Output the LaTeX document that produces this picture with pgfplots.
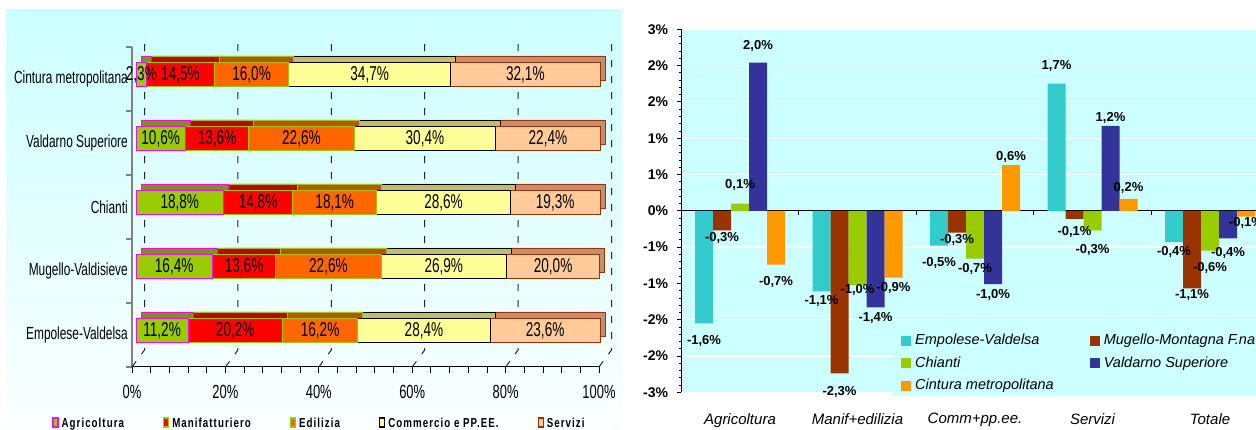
\documentclass[border=0pt]{standalone}
\usepackage{fontspec}
\setmainfont{Liberation Sans}
\newfontfamily\narrow[FakeStretch=0.68]{Liberation Sans}
\newfontfamily\legfont[FakeStretch=0.75,LetterSpace=8]{Liberation Sans Bold}
\usepackage{pgfplots}
\usepackage{pgfplotstable}
\pgfplotsset{compat=1.18}

\definecolor{bgc}{HTML}{CCFFFF}
\definecolor{agrF}{HTML}{99CC00}
\definecolor{agrT}{HTML}{779900}
\definecolor{agrL}{HTML}{FF00FF}
\definecolor{manF}{HTML}{FF0000}
\definecolor{manT}{HTML}{C00000}
\definecolor{ediF}{HTML}{FF6600}
\definecolor{ediT}{HTML}{C05000}
\definecolor{grL}{HTML}{99CC00}
\definecolor{comF}{HTML}{FFFF99}
\definecolor{comT}{HTML}{BDBD70}
\definecolor{serF}{HTML}{FFCC99}
\definecolor{serT}{HTML}{C09070}
\definecolor{serL}{HTML}{993300}
\definecolor{cEmp}{HTML}{33CCCC}
\definecolor{cMug}{HTML}{993300}
\definecolor{cChi}{HTML}{99CC00}
\definecolor{cVal}{HTML}{333399}
\definecolor{cCin}{HTML}{FF9900}

% composizione per comparto (0 = Empolese-Valdelsa ... 4 = Cintura metropolitana)
\pgfplotstableread{
pos agr man edi com ser
0 11.2 20.2 16.2 28.4 23.6
1 16.4 13.6 22.6 26.9 20.0
2 18.8 14.8 18.1 28.6 19.3
3 10.6 13.6 22.6 30.4 22.4
4 2.3 14.5 16.0 34.7 32.1
}\quota

% variazioni: valore, etichetta, spostamento etichetta (pt)
\pgfplotstableread{
cat emp empl empd mug mugl mugd chi chil chid val vall vald cin cinl cind
0 -1.55 -1,6 -17.7 -0.27 -0,3 -7.7 0.10 0,1 18.3 2.04 2,0 17 -0.74 -0,7 -17
1 -1.11 -1,1 -10 -2.24 -2,3 -18.3 -1.02 -1,0 -5 -1.33 -1,4 -10.6 -0.92 -0,9 -10.6
2 -0.48 -0,5 -17.6 -0.30 -0,3 -7 -0.66 -0,7 -10.7 -1.01 -1,0 -11 0.63 0,6 8.3
3 1.75 1,7 17.3 -0.11 -0,1 -13 -0.27 -0,3 -19.3 1.17 1,2 7.7 0.165 0,2 10.7
4 -0.43 -0,4 -10.3 -1.07 -1,1 -7 -0.55 -0,6 -17.7 -0.38 -0,4 -14.7 -0.08 -0,1 -6.7
}\var

\pgfplotsset{
  barleft/.style={
    scale only axis, anchor=south west,
    width=466pt, height=320pt,
    xmin=0, xmax=100, ymin=-0.5, ymax=4.5,
    hide axis, clip=false,
  },
  barright/.style={
    at={(681.25pt,37.7pt)}, anchor=south west, scale only axis,
    width=587.5pt, height=363pt,
    xmin=-0.5, xmax=4.5, ymin=-2.5, ymax=2.5,
  },
}

\begin{document}
\begin{tikzpicture}
\begin{scope}
\clip (0pt,0pt) rectangle (1256pt,430pt);
\shade[top color=bgc, bottom color=bgc!8!white] (6pt,0pt) rectangle (622pt,420pt);

% cornice del grafico a sinistra
\begin{axis}[
  at={(132pt,63pt)}, anchor=south west, scale only axis,
  width=467pt, height=320pt,
  xmin=0, xmax=100, ymin=-0.5, ymax=4.5, clip=false,
  axis x line*=bottom, axis y line*=left,
  x axis line style={black, line width=1pt, -},
  y axis line style={black!50, line width=2pt, -},
  tick align=outside,
  xtick={0,20,40,60,80,100},
  xticklabels={0\%,20\%,40\%,60\%,80\%,100\%},
  minor x tick num=4,
  major tick length=6pt, minor tick length=6pt,
  major x tick style={black, line width=0.8pt},
  minor x tick style={black, line width=0.8pt},
  ytick={-0.5,0.5,1.5,2.5,3.5,4.5}, yticklabels={},
  major y tick style={black!50, line width=1.5pt},
  extra y ticks={0,1,2,3,4},
  extra y tick labels={Empolese-Valdelsa,Mugello-Valdisieve,Chianti,Valdarno Superiore,Cintura metropolitana},
  extra y tick style={major tick length=0pt},
  xticklabel style={font=\narrow\fontsize{19}{19}\selectfont, anchor=north, inner sep=0pt, yshift=-12pt},
  yticklabel style={font=\narrow\fontsize{17.5}{17.5}\selectfont, anchor=east, inner sep=0pt, xshift=-4pt},
]
\pgfplotsinvokeforeach{0,20,40,60,80,100}{
  \draw[black!85, line width=1pt, dash pattern=on 7pt off 9pt]
    (axis cs:#1,-0.5) -- ++(12.5pt,17pt) -- ++(0pt,314pt);
}
\end{axis}

% facce superiori (copia spostata)
\begin{axis}[barleft, at={(141pt,74pt)}, xbar stacked, bar width=24pt]
\addplot[fill=agrT, draw=agrL, line width=0.9pt] table[x=agr,y=pos]{\quota};
\addplot[fill=manT, draw=grL, line width=0.9pt] table[x=man,y=pos]{\quota};
\addplot[fill=ediT, draw=grL, line width=0.9pt] table[x=edi,y=pos]{\quota};
\addplot[fill=comT, draw=black, line width=0.9pt] table[x=com,y=pos]{\quota};
\addplot[fill=serT, draw=serL, line width=0.9pt] table[x=ser,y=pos]{\quota};
\end{axis}

% facce frontali
\begin{axis}[barleft, at={(136pt,67.5pt)}, xbar stacked, bar width=24pt,
  legend image code/.code={\draw[#1, line width=1.3pt] (0pt,-4pt) rectangle (5pt,5pt);},
  legend style={at={(-0.18,-0.189)}, anchor=west, draw=none, fill=none, inner sep=0pt,
    legend columns=-1, font=\legfont\fontsize{13}{13}\selectfont,
    /tikz/every even column/.append style={column sep=36pt},
    nodes={inner xsep=3pt, inner ysep=0pt}},
]
\addplot[fill=agrF, draw=agrL, line width=1pt] table[x=agr,y=pos]{\quota};
\addplot[fill=manF, draw=grL, line width=1pt] table[x=man,y=pos]{\quota};
\addplot[fill=ediF, draw=grL, line width=1pt] table[x=edi,y=pos]{\quota};
\addplot[fill=comF, draw=black, line width=1pt] table[x=com,y=pos]{\quota};
\addplot[fill=serF, draw=serL, line width=1pt] table[x=ser,y=pos]{\quota};
\legend{Agricoltura,Manifatturiero,Edilizia,Commercio e PP.EE.,Servizi}
\end{axis}

% etichette al centro dei segmenti
\begin{axis}[barleft, at={(136pt,67.5pt)}, no markers,
  point meta=explicit,
  nodes near coords={\pgfmathprintnumber[fixed,fixed zerofill,precision=1,use comma,assume math mode=true]{\pgfplotspointmeta}\%},
  nodes near coords style={font=\narrow\fontsize{20}{20}\selectfont, anchor=center, inner sep=0pt, text=black},
]
\addplot[draw=none, mark=none] table[x expr=\thisrow{agr}/2, y=pos, meta=agr]{\quota};
\addplot[draw=none, mark=none] table[x expr=\thisrow{agr}+\thisrow{man}/2, y=pos, meta=man]{\quota};
\addplot[draw=none, mark=none] table[x expr=\thisrow{agr}+\thisrow{man}+\thisrow{edi}/2, y=pos, meta=edi]{\quota};
\addplot[draw=none, mark=none] table[x expr=\thisrow{agr}+\thisrow{man}+\thisrow{edi}+\thisrow{com}/2, y=pos, meta=com]{\quota};
\addplot[draw=none, mark=none] table[x expr=\thisrow{agr}+\thisrow{man}+\thisrow{edi}+\thisrow{com}+\thisrow{ser}/2, y=pos, meta=ser]{\quota};
\end{axis}

% grafico a destra
\begin{axis}[barright,
  ybar=0pt, bar width=18pt,
  axis background/.style={top color=bgc, middle color=white, bottom color=bgc},
  axis x line*=bottom, axis y line*=left,
  x axis line style={draw=none},
  y axis line style={black, line width=1pt, -},
  xtick={0,1,2,3,4},
  xticklabels={Agricoltura,Manif+edilizia,Comm+pp.ee.,Servizi,Totale},
  major x tick style={draw=none},
  ytick={-2.5,-2,-1.5,-1,-0.5,0,0.5,1,1.5,2,2.5},
  yticklabels={-3\%,-2\%,-2\%,-1\%,-1\%,0\%,1\%,1\%,2\%,2\%,3\%},
  minor y tick num=4,
  tick align=outside, major tick length=4pt, minor tick length=2.5pt,
  tick style={black, line width=0.8pt},
  ymajorgrids, major grid style={white, line width=1.2pt},
  extra y ticks={0}, extra y tick labels={},
  extra y tick style={grid=major, major grid style={black, line width=1pt}, major tick length=0pt},
  xticklabel style={font=\itshape\fontsize{15}{15}\selectfont, anchor=north, inner sep=0pt, yshift=-17pt},
  yticklabel style={font=\bfseries\fontsize{14}{14}\selectfont, anchor=east, inner sep=0pt, xshift=-9pt},
  legend cell align=left,
  legend image code/.code={\fill[#1] (0pt,-5pt) rectangle (10pt,5pt);},
  legend style={at={(0.3604,0.169)}, anchor=north west, draw=none, fill=bgc,
    legend columns=2, font=\itshape\fontsize{14.5}{14.5}\selectfont,
    inner xsep=8pt, inner ysep=3pt, row sep=9pt,
    /tikz/every even column/.append style={column sep=32pt},
    nodes={inner xsep=4pt, inner ysep=0pt, text height=10.5pt, text depth=3pt}},
]
\addplot[fill=cEmp, draw=none] table[x=cat,y=emp]{\var};
\addplot[fill=cMug, draw=none] table[x=cat,y=mug]{\var};
\addplot[fill=cChi, draw=none] table[x=cat,y=chi]{\var};
\addplot[fill=cVal, draw=none] table[x=cat,y=val]{\var};
\addplot[fill=cCin, draw=none] table[x=cat,y=cin]{\var};
\pgfplotsinvokeforeach{0.5,1.5,2.5,3.5}{
  \draw[black, line width=0.8pt] (axis cs:#1,0) -- ++(0pt,-4pt);
}
\legend{Empolese-Valdelsa,Mugello-Montagna F.na,Chianti,Valdarno Superiore,Cintura metropolitana}
\end{axis}

% etichette dei valori (spostamento in pt: 72.6 pt per unita)
\begin{axis}[barright, hide axis, clip=false, no markers,
  point meta=explicit symbolic,
  nodes near coords={\pgfplotspointmeta\%},
  nodes near coords style={font=\bfseries\fontsize{13}{13}\selectfont, anchor=center, inner sep=0pt, text=black},
]
\addplot[draw=none, mark=none] table[x expr=\thisrow{cat}-0.3064, y expr=\thisrow{emp}+\thisrow{empd}/72.6, meta=empl]{\var};
\addplot[draw=none, mark=none] table[x expr=\thisrow{cat}-0.1532, y expr=\thisrow{mug}+\thisrow{mugd}/72.6, meta=mugl]{\var};
\addplot[draw=none, mark=none] table[x expr=\thisrow{cat}, y expr=\thisrow{chi}+\thisrow{chid}/72.6, meta=chil]{\var};
\addplot[draw=none, mark=none] table[x expr=\thisrow{cat}+0.1532, y expr=\thisrow{val}+\thisrow{vald}/72.6, meta=vall]{\var};
\addplot[draw=none, mark=none] table[x expr=\thisrow{cat}+0.3064, y expr=\thisrow{cin}+\thisrow{cind}/72.6, meta=cinl]{\var};
\end{axis}
\end{scope}
\pgfresetboundingbox
\useasboundingbox (0pt,0pt) rectangle (1256pt,430pt);
\end{tikzpicture}
\end{document}
